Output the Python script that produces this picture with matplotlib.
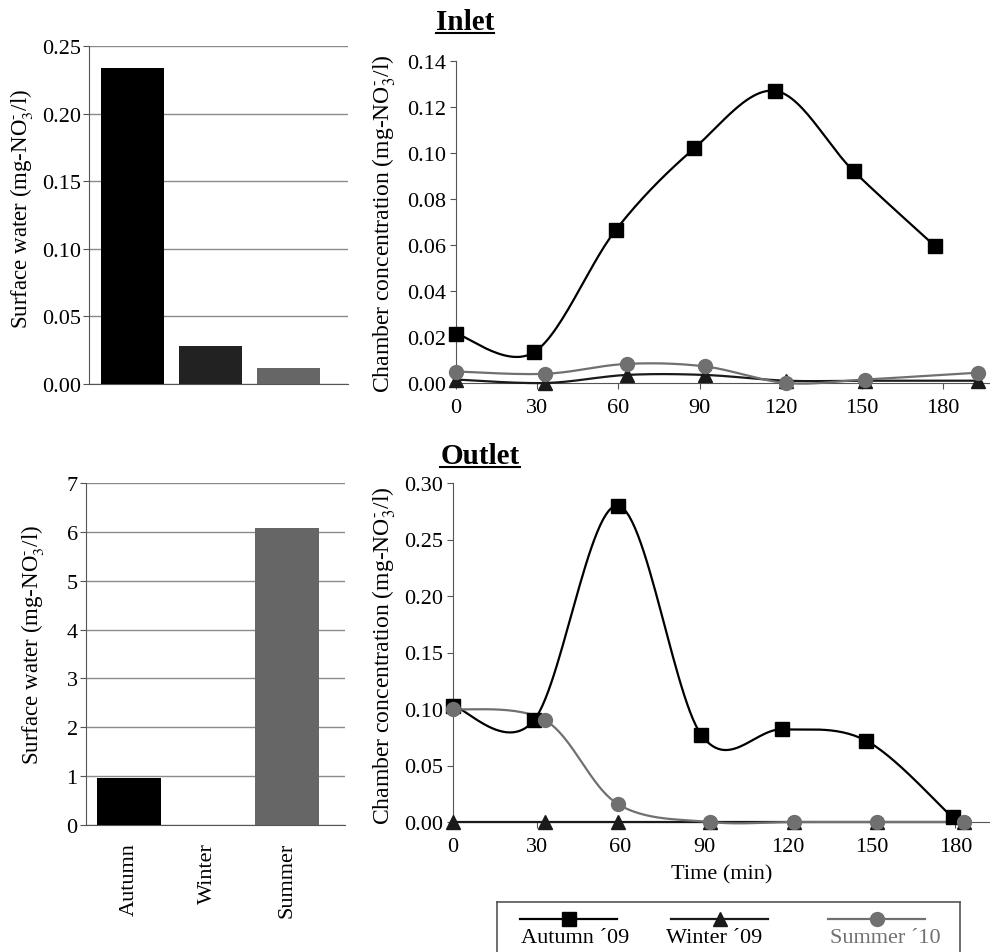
import numpy as np
import matplotlib
matplotlib.use('Agg')
import matplotlib.pyplot as plt
from matplotlib.lines import Line2D

plt.rcParams['font.family'] = ['Liberation Serif', 'DejaVu Serif']
plt.rcParams['mathtext.fontset'] = 'stix'

# surface water bars
seasons = ['Autumn', 'Winter', 'Summer']
inlet_surface = [0.234, 0.028, 0.012]
outlet_surface = [0.97, 0.0, 6.08]
bar_colors = ['#000000', '#222222', '#666666']

# chamber concentration, inlet
inlet_t_autumn = [0, 29, 59, 88, 118, 147, 177]
inlet_autumn = [0.0215, 0.0135, 0.0665, 0.102, 0.127, 0.092, 0.0595]
inlet_t_other = [0, 33, 63, 92, 122, 151, 193]
inlet_winter = [0.0015, 0.0, 0.0035, 0.0035, 0.001, 0.001, 0.001]
inlet_summer = [0.005, 0.004, 0.0083, 0.0072, 0.0, 0.0015, 0.0045]

# chamber concentration, outlet
outlet_t_autumn = [0, 29, 59, 89, 118, 148, 179]
outlet_autumn = [0.103, 0.090, 0.280, 0.077, 0.082, 0.072, 0.004]
outlet_t_other = [0, 33, 59, 92, 122, 152, 183]
outlet_winter = [0, 0, 0, 0, 0, 0, 0]
outlet_summer = [0.100, 0.090, 0.016, 0.0, 0.0, 0.0, 0.0]

series_names = ['Autumn \u00b409', 'Winter \u00b409', 'Summer \u00b410']
series_colors = ['#000000', '#1a1a1a', '#707070']
series_markers = ['s', '^', 'o']

W, H = 990, 953
fig = plt.figure(figsize=(W / 100, H / 100), dpi=100)


def px_axes(l, t, r, b):
    return fig.add_axes([l / W, 1 - b / H, (r - l) / W, (b - t) / H])


def smooth(x, y, kx, ky, n=30):
    # excel-like smoothed line (catmull-rom bezier in screen space)
    x = np.asarray(x, float) * kx
    y = np.asarray(y, float) * ky
    px = np.concatenate([[x[0]], x, [x[-1]]])
    py = np.concatenate([[y[0]], y, [y[-1]]])
    s = np.linspace(0, 1, n)
    xs, ys = [], []
    for i in range(1, len(px) - 2):
        p0 = np.array([px[i - 1], py[i - 1]])
        p1 = np.array([px[i], py[i]])
        p2 = np.array([px[i + 1], py[i + 1]])
        p3 = np.array([px[i + 2], py[i + 2]])
        c1 = p1 + (p2 - p0) / 6
        c2 = p2 - (p3 - p1) / 6
        b = ((1 - s) ** 3)[:, None] * p1 + (3 * (1 - s) ** 2 * s)[:, None] * c1 \
            + (3 * (1 - s) * s ** 2)[:, None] * c2 + (s ** 3)[:, None] * p2
        xs.append(b[:, 0])
        ys.append(b[:, 1])
    return np.concatenate(xs) / kx, np.concatenate(ys) / ky


def bar_panel(ax, values, ymax, step, fmt, show_labels, width):
    ax.bar(range(len(values)), values, width=width, color=bar_colors, zorder=3)
    ax.set_ylim(0, ymax)
    ax.set_yticks(np.arange(0, ymax + step / 2, step))
    ax.yaxis.set_major_formatter(plt.FormatStrFormatter(fmt))
    ax.yaxis.grid(True, color='#8a8a8a', lw=1.0, zorder=0)
    for s in ['top', 'right']:
        ax.spines[s].set_visible(False)
    ax.spines['left'].set_color('#555555')
    ax.spines['bottom'].set_color('#555555')
    ax.tick_params(axis='y', labelsize=16, length=4, color='#555555', pad=2)
    ax.set_xticks(range(len(values)))
    if show_labels:
        ax.set_xticklabels(seasons, rotation=90, fontsize=16)
        ax.tick_params(axis='x', length=0, pad=12)
    else:
        ax.set_xticklabels([])
        ax.tick_params(axis='x', length=0)


def line_panel(ax, xmax, ymax, step, t_aut, aut, t_oth, win, summ):
    ax.set_xlim(0, xmax)
    ax.set_ylim(0, ymax)
    bb = ax.get_position()
    kx = bb.width * W / xmax
    ky = bb.height * H / ymax
    data = [(t_oth, summ), (t_oth, win), (t_aut, aut)]
    order = [2, 1, 0]
    for (tx, vy), k in zip(data, order):
        sx, sy = smooth(tx, vy, kx, ky)
        ax.plot(sx, sy, color=series_colors[k], lw=1.6, clip_on=False, zorder=3 + k)
        ax.plot(tx, vy, ls='none', marker=series_markers[k], ms=10,
                color=series_colors[k], clip_on=False, zorder=6 + k)
    ax.set_xticks(range(0, 181, 30))
    ax.set_yticks(np.arange(0, ymax + step / 2, step))
    ax.yaxis.set_major_formatter(plt.FormatStrFormatter('%.2f'))
    for s in ['top', 'right']:
        ax.spines[s].set_visible(False)
    ax.spines['left'].set_color('#555555')
    ax.spines['bottom'].set_color('#555555')
    ax.tick_params(axis='both', labelsize=16, length=4, color='#555555')
    ax.tick_params(axis='y', pad=3)
    ax.tick_params(axis='x', pad=7)


ax1 = px_axes(89, 47, 348, 385)
ax1.set_xlim(-0.558, 2.76)
bar_panel(ax1, inlet_surface, 0.25, 0.05, '%.2f', False, 0.81)

ax3 = px_axes(86, 484, 345, 826)
ax3.set_xlim(-0.546, 2.74)
bar_panel(ax3, outlet_surface, 7, 1, '%d', True, 0.81)

ax2 = px_axes(456, 62, 990, 384)
line_panel(ax2, 197.3, 0.14, 0.02, inlet_t_autumn, inlet_autumn,
           inlet_t_other, inlet_winter, inlet_summer)

ax4 = px_axes(453, 484, 990, 823)
line_panel(ax4, 192.4, 0.30, 0.05, outlet_t_autumn, outlet_autumn,
           outlet_t_other, outlet_winter, outlet_summer)
ax4.set_xlabel('Time (min)', fontsize=16, labelpad=6)

surf_label = r'Surface water (mg-NO$_3^{\text{-}}$/l)'
cham_label = r'Chamber concentration (mg-NO$_3^{\text{-}}$/l)'
fig.text(22 / W, 1 - 209 / H, surf_label, rotation=90, fontsize=16.5, ha='center', va='center')
fig.text(33 / W, 1 - 645 / H, surf_label, rotation=90, fontsize=16.5, ha='center', va='center')
fig.text(384 / W, 1 - 224 / H, cham_label, rotation=90, fontsize=17, ha='center', va='center')
fig.text(384 / W, 1 - 656 / H, cham_label, rotation=90, fontsize=17, ha='center', va='center')

# panel titles, underlined
titles = []
titles.append(fig.text(465 / W, 1 - 23 / H, 'Inlet', fontsize=21, fontweight='bold',
                       ha='center', va='center'))
titles.append(fig.text(480 / W, 1 - 457 / H, 'Outlet', fontsize=21, fontweight='bold',
                       ha='center', va='center'))
fig.canvas.draw()
renderer = fig.canvas.get_renderer()
for t in titles:
    e = t.get_window_extent(renderer)
    y = (e.y0 + 3) / H
    fig.add_artist(Line2D([e.x0 / W, e.x1 / W], [y, y], color='black', lw=1.5))

# legend box
lax = px_axes(497, 903, 960, 960)
lax.set_xlim(497, 960)
lax.set_ylim(960, 903)
lax.set_xticks([])
lax.set_yticks([])
lax.spines['bottom'].set_visible(False)
for s in ['top', 'left', 'right']:
    lax.spines[s].set_color('#555555')
    lax.spines[s].set_linewidth(1.2)
line_x = [(520, 617), (671, 768), (828, 925)]
text_x = [575, 714, 885]
for k in range(3):
    x0, x1 = line_x[k]
    lax.plot([x0, x1], [920, 920], color=series_colors[k], lw=1.6)
    lax.plot([(x0 + x1) / 2], [920], marker=series_markers[k], ms=10, color=series_colors[k])
    lax.text(text_x[k], 939, series_names[k], fontsize=16, ha='center', va='center',
             color=series_colors[k] if k == 2 else 'black')

fig.savefig('out.png', dpi=100)
